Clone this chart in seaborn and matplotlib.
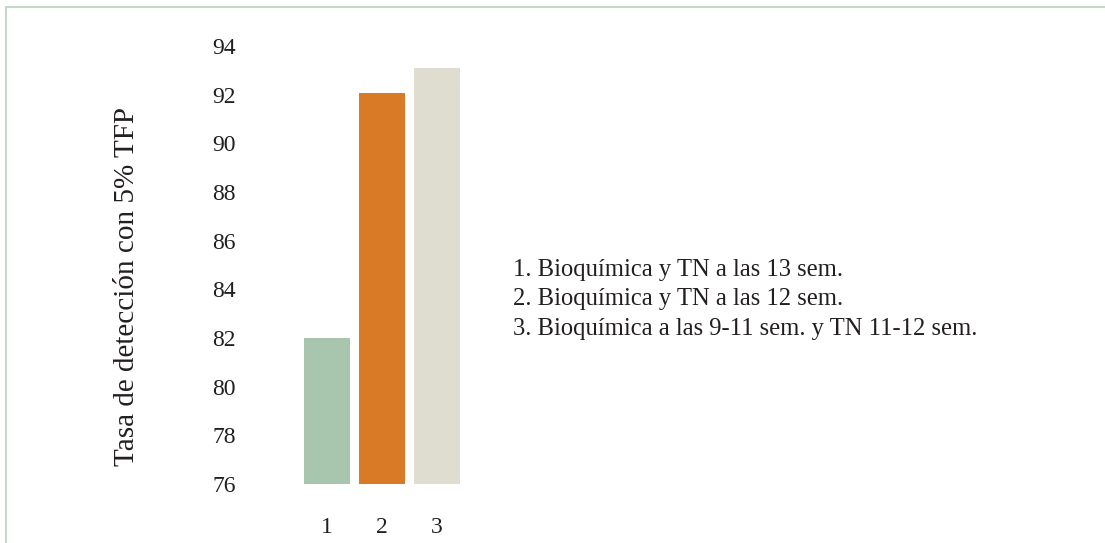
import matplotlib
matplotlib.use("Agg")
import matplotlib.pyplot as plt
import seaborn as sns
import pandas as pd

categories = ["1", "2", "3"]
values = [82.0, 92.05, 93.1]
colors = ["#a8c6ae", "#d97a26", "#dfdcd0"]
legend_lines = [
    "1. Bioquímica y TN a las 13 sem.",
    "2. Bioquímica y TN a las 12 sem.",
    "3. Bioquímica a las 9-11 sem. y TN 11-12 sem.",
]
yticks = [76, 78, 80, 82, 84, 86, 88, 90, 92, 94]
ylabel = "Tasa de detección con 5% TFP"

sns.set_theme(style="white")
plt.rcParams["font.family"] = ["Liberation Serif", "DejaVu Serif"]

W, H = 1105, 543
fig = plt.figure(figsize=(W / 100, H / 100), dpi=100)
ax = fig.add_axes([250 / W, 1 - 484 / H, 220 / W, 438 / H])

df = pd.DataFrame({"cat": categories, "val": [v - 76 for v in values]})
sns.barplot(data=df, x="cat", y="val", hue="cat", palette=colors, width=0.84,
            legend=False, ax=ax, bottom=76, saturation=1, linewidth=0)

ax.set_xlim(-1.41, 2.61)
ax.set_ylim(76, 94)
ax.set_yticks(yticks)
ax.set_yticklabels([str(t) for t in yticks])
ax.tick_params(axis="y", length=0, pad=10, labelsize=17, colors="#231f20")
ax.tick_params(axis="x", length=0, pad=24, labelsize=17, colors="#231f20")
ax.set_xlabel("")
ax.set_ylabel("")
for s in ax.spines.values():
    s.set_visible(False)
ax.patch.set_alpha(0)

fig.text(127 / W, 1 - 287 / H, ylabel, rotation=90, ha="center", va="center",
         fontsize=21, color="#231f20")

for i, line in enumerate(legend_lines):
    fig.text(513 / W, 1 - (270 + 29.5 * i) / H, line, ha="left", va="center",
             fontsize=17.7, color="#231f20")

fig.add_artist(plt.Line2D([6 / W, 1], [1 - 7 / H, 1 - 7 / H], color="#c5d9c9", lw=1.5,
                          transform=fig.transFigure))
fig.add_artist(plt.Line2D([6 / W, 6 / W], [0, 1 - 7 / H], color="#c5d9c9", lw=1.5,
                          transform=fig.transFigure))

fig.savefig("out.png", dpi=100)
